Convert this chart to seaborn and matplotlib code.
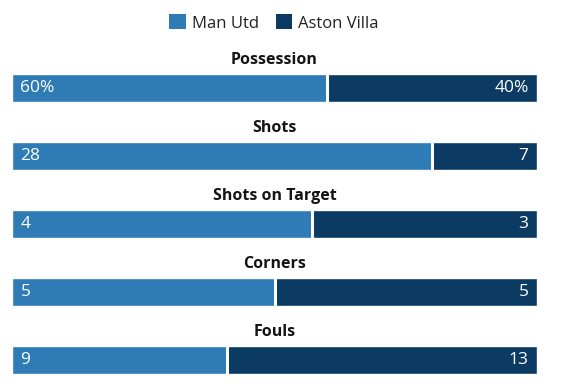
import numpy as np
import pandas as pd
import matplotlib
matplotlib.use("Agg")
import matplotlib.pyplot as plt
from matplotlib.patches import Patch
import seaborn as sns

# Data
stats = ["Possession", "Shots", "Shots on Target", "Corners", "Fouls"]
home_vals = [60, 28, 4, 5, 9]
away_vals = [40, 7, 3, 5, 13]
home_labels = ["60%", "28", "4", "5", "9"]
away_labels = ["40%", "7", "3", "5", "13"]
teams = ["Man Utd", "Aston Villa"]

HOME_COLOR = "#2e7bb5"
AWAY_COLOR = "#0b3b62"

sns.set_theme(style="white")
plt.rcParams["font.family"] = ["Open Sans", "DejaVu Sans"]

df = pd.DataFrame({"stat": stats, "home": home_vals, "away": away_vals})
df["home_share"] = df.home / (df.home + df.away)
df["total"] = 1.0

W, H = 568, 392
fig = plt.figure(figsize=(W / 100, H / 100), dpi=100)
ax = fig.add_axes([12 / W, 4.8 / H, 525 / W, 333.2 / H])

sns.barplot(data=df, y="stat", x="total", color=AWAY_COLOR, orient="h",
            width=28 / 68, saturation=1, ax=ax)
sns.barplot(data=df, y="stat", x="home_share", color=HOME_COLOR, orient="h",
            width=28 / 68, saturation=1, ax=ax)
# white gap between the two segments
for i, share in enumerate(df.home_share):
    ax.plot([share, share], [i - 0.206, i + 0.206], color="white", lw=2.2,
            solid_capstyle="butt")

ax.set_xlim(0, 1)
ax.set_ylim(4.4, -0.5)
ax.set_xlabel("")
ax.set_ylabel("")
ax.set_xticks([])
ax.set_yticks([])
sns.despine(ax=ax, left=True, bottom=True)

for i, stat in enumerate(stats):
    ax.text(0.5, i - 0.41, stat, ha="center", va="center", fontsize=11.5,
            fontweight="bold", color="#141414")
    ax.text(0.016, i, home_labels[i], ha="left", va="center", fontsize=12.5,
            color="white")
    ax.text(0.984, i, away_labels[i], ha="right", va="center", fontsize=12.5,
            color="white")

handles = [Patch(facecolor=HOME_COLOR, edgecolor="none"),
           Patch(facecolor=AWAY_COLOR, edgecolor="none")]
fig.legend(handles, teams, loc="center", bbox_to_anchor=(274 / W, 1 - 23 / H),
           ncol=2, frameon=False, fontsize=12, handlelength=1.0,
           handleheight=1.0, handletextpad=0.35, columnspacing=1.0,
           labelcolor="#222222")

fig.savefig("out.png", dpi=100)
